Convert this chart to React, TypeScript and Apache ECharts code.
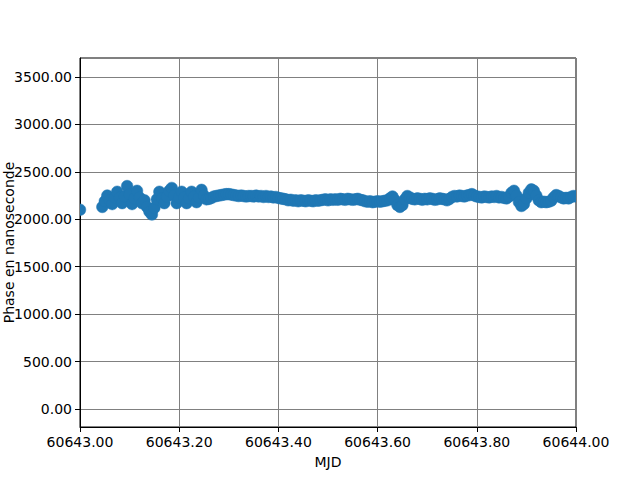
import React, { useEffect, useRef } from "react";
import * as echarts from "echarts";

// Isolated first measurement
const firstMjd = 60643.0;
const firstPhase = 2100;

// Regular sampling of the main run
const sampleStart = 60643.045;
const sampleStep = 0.005;

// Phase values (ns)
const phase = [
  2130, 2190, 2250, 2200, 2160, 2230, 2290, 2230, 2170, 2240,
  2350, 2260, 2160, 2220, 2300, 2230, 2170, 2200, 2130, 2080,
  2050, 2120, 2210, 2290, 2220, 2170, 2240, 2300, 2330, 2250,
  2170, 2230, 2290, 2230, 2170, 2220, 2290, 2240, 2180, 2230,
  2310, 2250, 2210, 2215, 2225, 2240, 2245, 2250, 2255, 2260,
  2265, 2265, 2260, 2255, 2250, 2245, 2250, 2245, 2240, 2245,
  2245, 2240, 2250, 2240, 2245, 2235, 2245, 2235, 2240, 2230,
  2235, 2225, 2220, 2215, 2210, 2200, 2205, 2195, 2200, 2190,
  2200, 2195, 2190, 2200, 2195, 2190, 2200, 2195, 2200, 2205,
  2210, 2200, 2210, 2205, 2210, 2205, 2215, 2210, 2205, 2215,
  2210, 2205, 2210, 2215, 2205, 2200, 2190, 2185, 2190, 2180,
  2185, 2190, 2185, 2190, 2195, 2200, 2220, 2240, 2200, 2150,
  2130, 2150, 2210, 2245, 2230, 2215, 2210, 2220, 2215, 2205,
  2215, 2210, 2220, 2215, 2205, 2210, 2220, 2215, 2210, 2200,
  2215, 2235, 2245, 2240, 2250, 2245, 2240, 2250, 2255, 2265,
  2250, 2240, 2235, 2230, 2240, 2235, 2230, 2240, 2235, 2245,
  2230, 2235, 2225, 2220, 2240, 2280, 2300, 2250, 2180, 2140,
  2160, 2220, 2280, 2315, 2300, 2250, 2200, 2180, 2185, 2180,
  2185, 2195, 2230, 2255, 2245, 2230, 2220, 2225, 2220, 2235,
  2245, 2240,
];

const xName = "MJD";
const yName = "Phase en nanoseconde";

export default function App() {
  const ref = useRef<HTMLDivElement>(null);
  useEffect(() => {
    const chart = echarts.init(ref.current!, null, { renderer: "svg" });
    const data: number[][] = [[firstMjd, firstPhase]];
    phase.forEach((v, i) => {
      data.push([+(sampleStart + i * sampleStep).toFixed(3), v]);
    });
    const font = "DejaVu Sans";
    chart.setOption({
      animation: false,
      backgroundColor: "#fff",
      grid: {
        left: 80,
        top: 58,
        width: 496,
        height: 369,
        containLabel: false,
        outerBoundsMode: "none",
        show: true,
        borderColor: "#000",
        borderWidth: 1,
        backgroundColor: "#fff",
      },
      xAxis: {
        type: "value",
        min: 60643,
        max: 60644,
        interval: 0.2,
        name: xName,
        nameLocation: "middle",
        nameGap: 28,
        nameMoveOverlap: false,
        nameTextStyle: { color: "#000", fontSize: 14, fontFamily: font },
        axisLine: { show: true, onZero: false, lineStyle: { color: "#000", width: 1 } },
        axisTick: { show: true, length: 5, lineStyle: { color: "#000", width: 1 } },
        axisLabel: {
          formatter: (v: number) => v.toFixed(2),
          color: "#000",
          fontSize: 14,
          fontFamily: font,
          margin: 8,
        },
        splitLine: { show: true, lineStyle: { color: "#808080", width: 1 } },
      },
      yAxis: {
        type: "value",
        min: -190,
        max: 3700,
        splitNumber: 8,
        name: yName,
        nameLocation: "middle",
        nameGap: 64,
        nameMoveOverlap: false,
        nameTextStyle: { color: "#000", fontSize: 14, fontFamily: font },
        axisLine: { show: true, onZero: false, lineStyle: { color: "#000", width: 1 } },
        axisTick: { show: true, length: 5, lineStyle: { color: "#000", width: 1 } },
        axisLabel: {
          formatter: (v: number) => v.toFixed(2),
          color: "#000",
          fontSize: 14,
          fontFamily: font,
          margin: 8,
          showMinLabel: false,
          showMaxLabel: false,
        },
        splitLine: { show: true, lineStyle: { color: "#808080", width: 1 } },
      },
      series: [
        {
          type: "custom",
          clip: true,
          data,
          encode: { x: 0, y: 1 },
          renderItem: (params: any, api: any) => {
            const p = api.coord([api.value(0), api.value(1)]);
            return {
              type: "circle",
              shape: { cx: p[0], cy: p[1], r: 5.8 },
              style: { fill: "#1f77b4", stroke: "#1f77b4", lineWidth: 0.5 },
            };
          },
        },
      ],
    });
    return () => chart.dispose();
  }, []);
  return (
    <div
      ref={ref}
      style={{ position: "fixed", left: 0, top: 0, width: 640, height: 480 }}
    />
  );
}
